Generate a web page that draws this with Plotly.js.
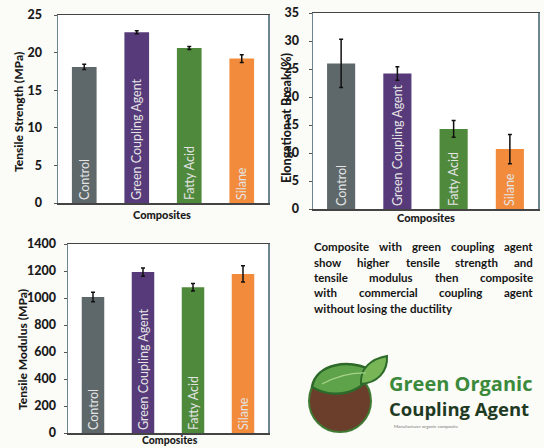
<!DOCTYPE html>
<html>
<head>
<meta charset="utf-8">
<script src="https://cdn.plot.ly/plotly-3.0.1.min.js"></script>
<style>html,body{margin:0;padding:0;background:#fbfbf7;}#chart{width:544px;height:448px;}</style>
</head>
<body>
<div id="chart"></div>
<script>
// ---- data ----
var categories = ["Control", "Green Coupling Agent", "Fatty Acid", "Silane"];
var barColors = ["#5e686b", "#563a7a", "#4f8a3c", "#f28b3c"];
var tensileStrength = [18.1, 22.7, 20.6, 19.2];
var tensileStrengthErr = [0.35, 0.2, 0.2, 0.5];
var elongation = [26.0, 24.2, 14.3, 10.7];
var elongationErr = [4.3, 1.2, 1.5, 2.6];
var tensileModulus = [1008, 1192, 1080, 1178];
var tensileModulusErr = [35, 30, 28, 60];
var strengthTicks = [0, 5, 10, 15, 20, 25];
var elongationTicks = [0, 5, 10, 15, 20, 25, 30, 35];
var modulusTicks = [0, 200, 400, 600, 800, 1000, 1200, 1400];
var paragraphLines = [
  "Composite with green coupling agent",
  "show higher tensile strength and",
  "tensile modulus then  composite",
  "with commercial coupling agent",
  "without losing the ductility"
];

var W = 544, H = 448;
function px(x){ return x / W; }
function py(y){ return 1 - y / H; }
var FONT = "Lato";

function barTrace(vals, errs, xa, ya, width){
  return {
    type: "bar", x: categories, y: vals, xaxis: xa, yaxis: ya, width: width,
    marker: {color: barColors, line: {width: 0}},
    error_y: {type: "data", array: errs, visible: true, color: "#111", thickness: 1.5, width: 2},
    text: categories, textposition: "inside", textangle: -90, insidetextanchor: "start",
    textfont: {family: FONT, size: 12.5, color: "#e4e4e4"},
    cliponaxis: false, hoverinfo: "none", showlegend: false
  };
}

var data = [
  barTrace(tensileStrength, tensileStrengthErr, "x", "y", 0.47),
  barTrace(elongation, elongationErr, "x2", "y2", 0.5),
  barTrace(tensileModulus, tensileModulusErr, "x3", "y3", 0.45)
];

function xAxis(dom, anchor){
  return {domain: dom, anchor: anchor, type: "category", range: [-0.5, 3.5],
    showticklabels: false, ticks: "", showgrid: false, zeroline: false,
    showline: true, linecolor: "#444", linewidth: 1.5, mirror: true, fixedrange: true};
}
function yAxis(dom, anchor, range, ticks, standoff){
  return {domain: dom, anchor: anchor, range: range, tickvals: ticks,
    ticktext: ticks.map(function(t){ return String(t); }),
    ticks: "outside", ticklen: 3, tickcolor: "#555", ticklabelstandoff: standoff,
    tickfont: {family: FONT, size: 12.5, color: "#1a1a1a", weight: 900},
    showgrid: false, zeroline: false, showline: true, linecolor: "#6d8590", linewidth: 1.5,
    mirror: true, fixedrange: true};
}

var annotations = [];
function addText(text, x, y, size, opts){
  var a = Object.assign({text: text, xref: "paper", yref: "paper", x: px(x), y: py(y),
    showarrow: false, xanchor: "center", yanchor: "middle", borderpad: 0, borderwidth: 0,
    font: {family: FONT, size: size, color: "#1a1a1a", weight: 900}}, opts || {});
  annotations.push(a);
}
// axis titles
addText("Tensile Strength (MPa)", 18, 112, 12, {textangle: -90});
addText("Composites", 162, 214, 11);
addText("Elongation at Break (%)", 286, 118, 12.5, {textangle: -90});
addText("Composites", 426, 218, 11);
addText("Tensile Modulus (MPa)", 22, 350, 12, {textangle: -90});
addText("Composites", 170, 440, 10.5);

// justified paragraph
(function(){
  var canvas = document.createElement("canvas");
  var ctx = canvas.getContext("2d");
  var size = 11.5;
  ctx.font = "bold " + size + "px Lato";
  var left = 314, right = 533;
  var ys = [246, 262, 277, 292, 308];
  paragraphLines.forEach(function(line, i){
    var words = line.split(/\s+/);
    var widths = words.map(function(w){ return ctx.measureText(w).width; });
    var sum = widths.reduce(function(a,b){return a+b;}, 0);
    var gap = ctx.measureText(" ").width;
    if (i < paragraphLines.length - 1 && words.length > 1) gap = (right - left - sum) / (words.length - 1);
    var xpos = left;
    words.forEach(function(w, j){
      addText(w, xpos, ys[i], size, {xanchor: "left", font: {family: "Lato", size: size, color: "#151515", weight: 700}});
      xpos += widths[j] + gap;
    });
  });
})();

// logo text
addText("Green Organic", 389, 383, 20, {xanchor: "left", font: {family: "Open Sans", size: 20, color: "#3b8a3c", weight: 700}});
addText("Coupling Agent", 389, 408, 18.5, {xanchor: "left", font: {family: "Open Sans", size: 18.5, color: "#1f3a22", weight: 700}});
addText("Manufacturer organic composite", 394, 426, 4.5, {xanchor: "left", font: {family: FONT, size: 4.5, color: "#777", weight: 400}});

var shapes = [
  {type: "circle", xref: "paper", yref: "paper", x0: px(309), x1: px(371), y0: py(432), y1: py(370),
   fillcolor: "#6a3e2b", line: {color: "#3f7a33", width: 2}},
  {type: "path", xref: "paper", yref: "paper",
   path: "M " + px(312) + "," + py(387) + " C " + px(316) + "," + py(364) + " " + px(348) + "," + py(358) + " " + px(373) + "," + py(371) +
         " C " + px(362) + "," + py(394) + " " + px(334) + "," + py(400) + " " + px(312) + "," + py(387) + " Z",
   fillcolor: "#5ea24a", line: {color: "#2d6a2a", width: 2.5}},
  {type: "path", xref: "paper", yref: "paper",
   path: "M " + px(361) + "," + py(384) + " C " + px(360) + "," + py(368) + " " + px(371) + "," + py(359) + " " + px(387) + "," + py(356) +
         " C " + px(388) + "," + py(372) + " " + px(377) + "," + py(383) + " " + px(361) + "," + py(384) + " Z",
   fillcolor: "#78b557", line: {color: "#2d6a2a", width: 2}},
  {type: "path", xref: "paper", yref: "paper",
   path: "M " + px(322) + "," + py(384) + " Q " + px(345) + "," + py(372) + " " + px(366) + "," + py(373),
   line: {color: "#a8d48a", width: 1.2}}
];

var layout = {
  width: W, height: H,
  margin: {l: 0, r: 0, t: 0, b: 0},
  paper_bgcolor: "#fbfbf7", plot_bgcolor: "#ffffff",
  font: {family: FONT, color: "#222"},
  showlegend: false,
  xaxis: xAxis([px(58), px(268)], "y"),
  yaxis: yAxis([py(203), py(15)], "x", [0, 25], strengthTicks, 9),
  xaxis2: xAxis([px(313), px(538)], "y2"),
  yaxis2: yAxis([py(209), py(13)], "x2", [0, 35], elongationTicks, 7),
  xaxis3: xAxis([px(68), px(268)], "y3"),
  yaxis3: yAxis([py(433), py(244)], "x3", [0, 1400], modulusTicks, 5),
  annotations: annotations,
  shapes: shapes
};

Plotly.newPlot("chart", data, layout, {staticPlot: true, displayModeBar: false});
</script>
</body>
</html>
